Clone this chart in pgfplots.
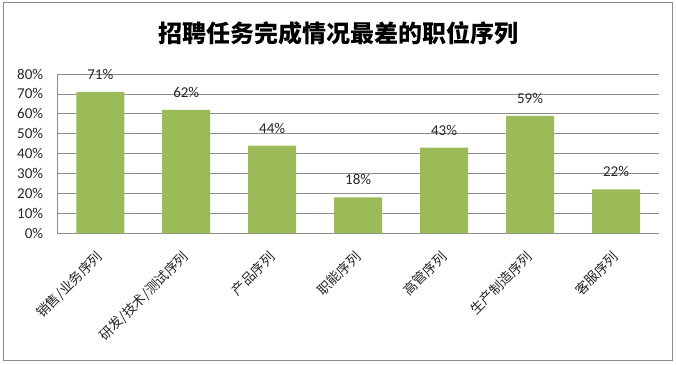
\documentclass[border=0pt]{standalone}
\usepackage{fontspec}
\setmainfont{Carlito}
\newfontfamily\cjk{Noto Sans CJK SC}
\usepackage{pgfplots}
\pgfplotsset{compat=1.18}
\definecolor{barg}{HTML}{9BBB59}
\definecolor{gridc}{HTML}{8C8C8C}
\definecolor{txt}{HTML}{262626}
\begin{document}
\begin{tikzpicture}
\path (0pt,0pt) rectangle (676pt,364pt);
\draw[gridc, line width=1pt] (3.5pt,3.5pt) rectangle (672.5pt,361pt);
\node[font=\cjk\bfseries\fontsize{24}{28}\selectfont, text=black] at (338pt,331pt) {招聘任务完成情况最差的职位序列};
\begin{axis}[
 at={(57.3pt,130.7pt)}, anchor=south west,
 scale only axis, width=601.7pt, height=159.3pt,
 /pgf/number format/assume math mode=true,
 xmin=-0.5, xmax=6.5, ymin=0, ymax=80,
 ytick={0,10,...,80},
 yticklabel={\pgfmathprintnumber{\tick}\%},
 ymajorgrids, grid style={gridc, line width=0.8pt},
 axis x line*=bottom, axis y line*=left,
 axis line style={gridc, line width=0.8pt, -},
 major tick length=0pt,
 xtick=data,
 xticklabels={销售/业务序列, 研发/技术/测试序列, 产品序列, 职能序列, 高管序列, 生产制造序列, 客服序列},
 xticklabel style={font=\cjk\fontsize{13.5}{15}\selectfont, text=txt, rotate=45, anchor=east, inner sep=0pt},
 xticklabel shift=21pt,
 yticklabel style={font=\fontsize{15}{17}\selectfont, text=txt, anchor=east, inner sep=0pt, xshift=-14pt},
 ybar, bar width=48pt,
 nodes near coords={\pgfmathprintnumber{\pgfplotspointmeta}\%},
 nodes near coords style={font=\fontsize{15}{17}\selectfont, text=txt, anchor=base, inner sep=0pt, yshift=12.5pt},
]
\addplot[fill=barg, draw=none] coordinates {(0,71) (1,62) (2,44) (3,18) (4,43) (5,59) (6,22)};
\end{axis}
\end{tikzpicture}
\end{document}
